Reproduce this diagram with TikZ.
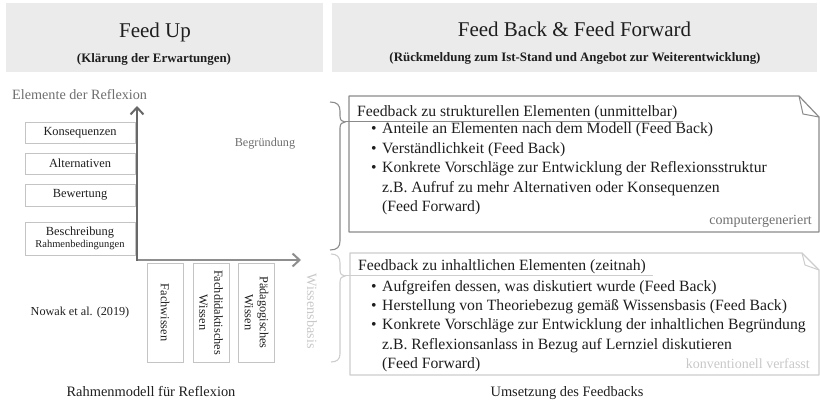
\documentclass[tikz,border=0pt]{standalone}
\usepackage{fontspec}
\setmainfont{Liberation Serif}
\usetikzlibrary{arrows.meta}
\definecolor{hdrfill}{HTML}{EBEBEB}
\definecolor{boxline}{HTML}{C4C4C4}
\definecolor{axisdark}{HTML}{686868}
\definecolor{axislight}{HTML}{8E8E8E}
\definecolor{midgray}{HTML}{6E6E6E}
\definecolor{lightgray}{HTML}{C8C8C8}
\definecolor{txt}{HTML}{1E1E1E}
\definecolor{topframe}{HTML}{8A8A8A}
\definecolor{botframe}{HTML}{CDCDCD}
\begin{document}
\begin{tikzpicture}[x=1pt,y=-1pt,
  hdrbox/.style={fill=hdrfill,draw=none},
  title/.style={anchor=base,text=txt,inner sep=0,font=\fontsize{21}{24}\selectfont},
  subtitle/.style={anchor=base,text=txt,inner sep=0,font=\bfseries\fontsize{12.9}{15}\selectfont},
  elbox/.style={draw=boxline,line width=0.8,minimum width=110,inner sep=0,text=txt,align=center,font=\fontsize{12.4}{14}\selectfont},
  vbox/.style={draw=boxline,line width=0.8,rotate=-90,minimum width=99,minimum height=36,inner sep=0,text=txt,align=center,font=\fontsize{12.3}{15}\selectfont},
  plain/.style={inner sep=0,text=txt,font=\fontsize{12.2}{14}\selectfont},
  caption/.style={anchor=base,inner sep=0,text=txt,font=\fontsize{14.4}{17}\selectfont},
  line/.style={anchor=base west,inner sep=0,text=txt,font=\fontsize{15.7}{19}\selectfont},
  note/.style={anchor=base east,inner sep=0,font=\fontsize{14}{16}\selectfont},
]
\useasboundingbox (0,0) rectangle (820,406);

% headers
\fill[hdrbox] (6,3) rectangle (323,72);
\fill[hdrbox] (332,3) rectangle (817,72);
\node[title] (fu) at (155,38) {Feed Up};
\node[subtitle] (fus) at (154,63) {(Klärung der Erwartungen)};
\node[title] (fb) at (574.5,37) {Feed Back \& Feed Forward};
\node[subtitle] (fbs) at (575,62) {(Rückmeldung zum Ist-Stand und Angebot zur Weiterentwicklung)};

% left model
\node[anchor=base west,inner sep=0,text=midgray,font=\fontsize{14.2}{16}\selectfont] (elem) at (12,99.5) {Elemente der Reflexion};
\node[elbox,minimum height=21] (kons) at (80,132.5) {Konsequenzen};
\node[elbox,minimum height=21] (alt) at (80,163.5) {Alternativen};
\node[elbox,minimum height=22] (bew) at (80,195) {Bewertung};
\node[elbox,minimum height=33] (bes) at (80,238.5) {Beschreibung\\[-2pt]{\fontsize{10.5}{12}\selectfont Rahmenbedingungen}};

\coordinate (origin) at (137,260);
\coordinate (ytip) at (137,106);
\coordinate (xtip) at (301,260);
\draw[axislight,line width=2.4,line cap=rect,-{Straight Barb[length=7pt,width=13pt,line width=2pt]}] (origin) -- (xtip);
\draw[axisdark,line width=2.4,line cap=rect,-{Straight Barb[length=7pt,width=13pt,line width=2pt]}] (origin) -- (ytip);

\node[anchor=base,inner sep=0,text=midgray,font=\fontsize{12.2}{14}\selectfont] (begr) at (265,147) {Begründung};

\node[vbox] (fw) at (165,312.5) {Fachwissen};
\node[vbox] (fdw) at (211,312.5) {Fachdidaktisches\\Wissen};
\node[vbox] (pw) at (256.5,312.5) {Pädagogisches\\Wissen};
\node[plain] (nowak) at (80,313) {Nowak et al. (2019)};
\node[inner sep=0,rotate=-90,text=lightgray,font=\fontsize{14.2}{16}\selectfont] (wb) at (312,311) {Wissensbasis};

\node[caption] (cap1) at (151,396) {Rahmenmodell für Reflexion};
\node[caption] (cap2) at (567,396) {Umsetzung des Feedbacks};

% top feedback box
\draw[topframe,line width=1.2,line join=round] (349,96) -- (799,96) -- (819,117) -- (819,232) -- (349,232) -- cycle;
\draw[topframe,line width=1,line join=round] (799,96) -- (803,114) -- (819,117);
\coordinate (t1) at (330,102);
\coordinate (ttip) at (345,122);
\coordinate (t2) at (330,250);
\coordinate (tend) at (683,122);
\draw[topframe,line width=1.1] (t1) .. controls (337,102) and (340,105) .. (340,111) -- (340,116) .. controls (340,120) and (342,122) .. (ttip)
  .. controls (342,122) and (340,124) .. (340,128) -- (340,241) .. controls (340,247) and (337,250) .. (t2);
\draw[topframe,line width=1] (ttip) -- (tend);
\node[line] (h1) at (357,117) {Feedback zu strukturellen Elementen (unmittelbar)};
\node[line] (b11) at (371,134) {•};
\node[line] (l11) at (382,134) {Anteile an Elementen nach dem Modell (Feed Back)};
\node[line] (b12) at (371,153.5) {•};
\node[line] (l12) at (382,153.5) {Verständlichkeit (Feed Back)};
\node[line] (b13) at (371,173) {•};
\node[line] (l13) at (382,173) {Konkrete Vorschläge zur Entwicklung der Reflexionsstruktur};
\node[line] (l14) at (382,192.5) {z.B. Aufruf zu mehr Alternativen oder Konsequenzen};
\node[line] (l15) at (382,212) {(Feed Forward)};
\node[note,text=midgray] (cg) at (812,225) {computergeneriert};

% bottom feedback box
\draw[botframe,line width=1.2,line join=round] (350,253) -- (802,253) -- (819,270) -- (819,375) -- (350,375) -- cycle;
\draw[botframe,line width=1,line join=round] (802,253) -- (805,265) -- (819,270);
\coordinate (u1) at (331,254);
\coordinate (utip) at (345,276);
\coordinate (u2) at (331,362);
\coordinate (uend) at (653,276);
\draw[botframe,line width=1.1] (u1) .. controls (337,254) and (340,257) .. (340,263) -- (340,270) .. controls (340,274) and (342,276) .. (utip)
  .. controls (342,276) and (340,278) .. (340,282) -- (340,354) .. controls (340,359) and (337,362) .. (u2);
\draw[botframe,line width=1] (utip) -- (uend);
\node[line] (h2) at (358,271) {Feedback zu inhaltlichen Elementen (zeitnah)};
\node[line] (b21) at (371,292) {•};
\node[line] (l21) at (382,292) {Aufgreifen dessen, was diskutiert wurde (Feed Back)};
\node[line] (b22) at (371,311) {•};
\node[line] (l22) at (382,311) {Herstellung von Theoriebezug gemäß Wissensbasis (Feed Back)};
\node[line] (b23) at (371,330) {•};
\node[line] (l23) at (382,330) {Konkrete Vorschläge zur Entwicklung der inhaltlichen Begründung};
\node[line] (l24) at (382,349) {z.B. Reflexionsanlass in Bezug auf Lernziel diskutieren};
\node[line] (l25) at (382,368) {(Feed Forward)};
\node[note,text=lightgray] (kv) at (810,368) {konventionell verfasst};
\end{tikzpicture}
\end{document}
